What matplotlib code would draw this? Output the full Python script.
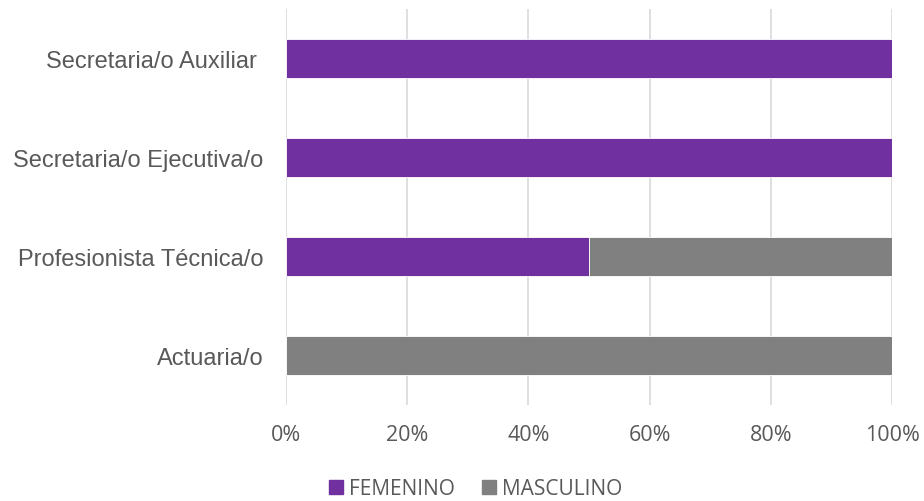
import matplotlib
matplotlib.use("Agg")
import matplotlib.pyplot as plt
from matplotlib.ticker import FuncFormatter
from matplotlib.patches import Patch

categories = ["Actuaria/o", "Profesionista Técnica/o", "Secretaria/o Ejecutiva/o", "Secretaria/o Auxiliar "]
femenino = [0.0, 0.5, 1.0, 1.0]
masculino = [1.0, 0.5, 0.0, 0.0]
series_names = ["FEMENINO", "MASCULINO"]
xticks = [0.0, 0.2, 0.4, 0.6, 0.8, 1.0]

purple = "#7030A0"
gray = "#808080"
text_color = "#595959"

fig = plt.figure(figsize=(9.24, 5.02), dpi=100)
ax = fig.add_axes([286 / 924, 96 / 502, 606 / 924, 396 / 502])

y = range(len(categories))
bar_kw = dict(height=0.40, edgecolor="white", linewidth=0.6, zorder=3)
ax.barh(y, femenino, color=purple, **bar_kw)
ax.barh(y, masculino, left=femenino, color=gray, **bar_kw)

ax.set_xlim(0, 1)
ax.set_ylim(-0.5, len(categories) - 0.5)
ax.set_xticks(xticks)
ax.xaxis.set_major_formatter(FuncFormatter(lambda v, _: f"{v * 100:.0f}%"))
ax.set_yticks(list(y))
ax.set_yticklabels(categories, family="Liberation Sans", fontsize=17, color=text_color)
for lab in ax.get_xticklabels():
    lab.set_family("Open Sans")
    lab.set_fontsize(15.5)
    lab.set_color(text_color)

ax.grid(axis="x", color="#D9D9D9", linewidth=1.2, zorder=0)
ax.tick_params(axis="both", length=0)
ax.tick_params(axis="x", pad=14)
ax.tick_params(axis="y", pad=16.5)
for s in ax.spines.values():
    s.set_visible(False)

handles = [Patch(color=purple), Patch(color=gray)]
fig.legend(handles, series_names, loc="center left", bbox_to_anchor=(329 / 924, 1 - 490 / 502),
           ncol=2, frameon=False, borderpad=0, borderaxespad=0,
           handlelength=0.67, handleheight=0.67, handletextpad=0.3,
           columnspacing=1.3, prop={"family": "Open Sans", "size": 15})
for t in fig.legends[0].get_texts():
    t.set_color(text_color)

fig.savefig("out.png", dpi=100)
